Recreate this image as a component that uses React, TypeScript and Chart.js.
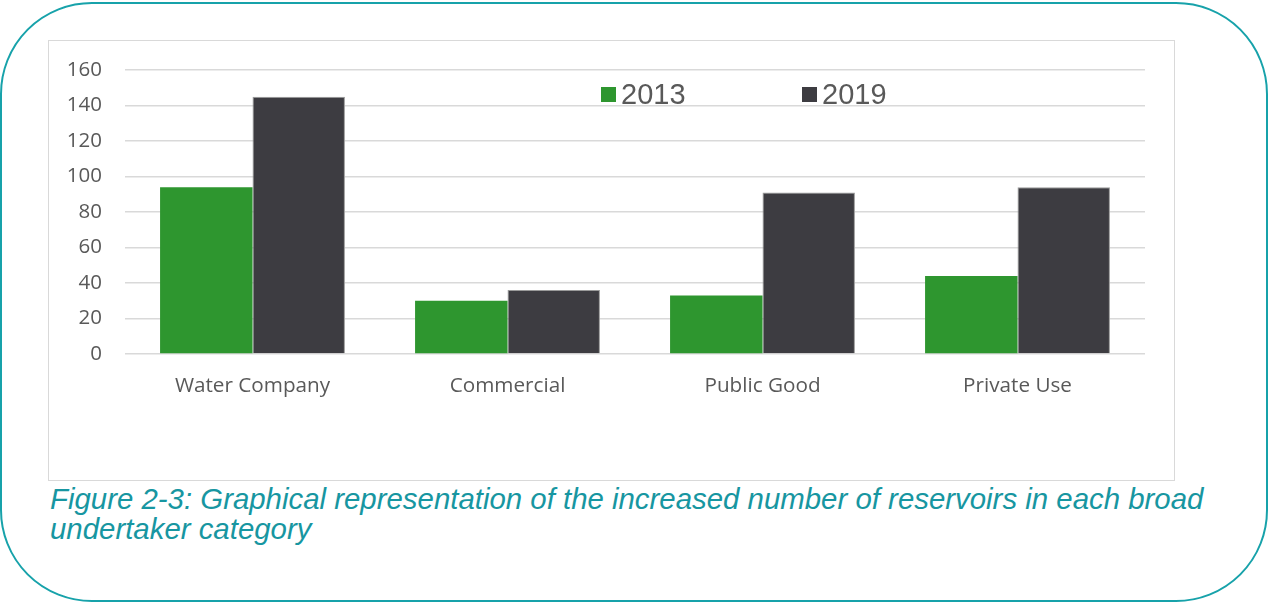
import React, { useEffect, useRef } from "react";
import { Chart, registerables } from "chart.js";

Chart.register(...registerables);

const categories = ["Water Company", "Commercial", "Public Good", "Private Use"];
const series2013 = [94, 30, 33, 44];
const series2019 = [145, 36, 91, 94];
const seriesLabels = ["2013", "2019"];
const yTicks = [0, 20, 40, 60, 80, 100, 120, 140, 160];

const GREEN = "#2E962F";
const DARK = "#3D3C41";
const TEAL = "#1796A1";
const TEXT = "#595959";

const CANVAS_W = 1125;
const CANVAS_H = 439;

const legendPlugin = {
  id: "customLegend",
  afterDraw(chart: any) {
    const { ctx, chartArea } = chart;
    const boxX = [476, 677];
    ctx.save();
    ctx.font = "29px 'Liberation Sans', Arial, sans-serif";
    ctx.textBaseline = "alphabetic";
    ctx.textAlign = "left";
    chart.data.datasets.forEach((ds: any, i: number) => {
      const bx = chartArea.left + boxX[i];
      const by = chartArea.top + 17;
      ctx.fillStyle = ds.backgroundColor;
      ctx.fillRect(bx, by, 15, 15);
      ctx.fillStyle = TEXT;
      ctx.fillText(ds.label, bx + 20, chartArea.top + 34);
    });
    ctx.restore();
  },
};

function ChartBox() {
  const ref = useRef<HTMLCanvasElement | null>(null);
  useEffect(() => {
    if (!ref.current) return;
    const chart = new Chart(ref.current, {
      type: "bar",
      data: {
        labels: categories,
        datasets: [
          {
            label: seriesLabels[0],
            data: series2013,
            backgroundColor: GREEN,
            categoryPercentage: 0.725,
            barPercentage: 1,
          },
          {
            label: seriesLabels[1],
            data: series2019,
            backgroundColor: DARK,
            borderColor: "#9a9a9a",
            borderWidth: 1,
            categoryPercentage: 0.725,
            barPercentage: 1,
          },
        ],
      },
      options: {
        responsive: false,
        animation: false,
        layout: { padding: { top: 29, right: 29, left: 0, bottom: 0 } },
        plugins: {
          legend: { display: false },
          tooltip: { enabled: false },
        },
        scales: {
          x: {
            grid: { display: false, drawTicks: false },
            border: { display: false },
            ticks: {
              color: TEXT,
              padding: 20,
              font: { family: "'Open Sans', sans-serif", size: 20.7 },
            },
            afterFit: (s: any) => {
              s.height = 126;
              s.paddingLeft = 0;
              s.paddingRight = 0;
            },
          },
          y: {
            min: 0,
            max: 160,
            afterBuildTicks: (s: any) => {
              s.ticks = yTicks.map((v) => ({ value: v }));
            },
            grid: { color: "#d9d9d9", lineWidth: 1.5, drawTicks: false },
            border: { display: false },
            ticks: {
              color: TEXT,
              padding: 23,
              font: { family: "'Open Sans', sans-serif", size: 20.5 },
            },
            afterFit: (s: any) => {
              s.width = 76;
              s.paddingTop = 0;
              s.paddingBottom = 0;
            },
          },
        },
      },
      plugins: [legendPlugin],
    });
    return () => chart.destroy();
  }, []);
  return <canvas ref={ref} width={CANVAS_W} height={CANVAS_H} style={{ display: "block" }} />;
}

export default function App() {
  return (
    <div
      style={{
        position: "absolute",
        left: 0,
        top: 0,
        width: 1269,
        height: 603,
        background: "#fff",
        overflow: "hidden",
      }}
    >
      <div
        style={{
          position: "absolute",
          left: 0,
          top: 2,
          width: 1268,
          height: 600,
          boxSizing: "border-box",
          border: "2px solid #17A2AA",
          borderRadius: 92,
        }}
      />
      <div
        style={{
          position: "absolute",
          left: 48,
          top: 40,
          width: CANVAS_W,
          height: CANVAS_H,
          border: "1px solid #d9d9d9",
        }}
      >
        <ChartBox />
      </div>
      <div
        style={{
          position: "absolute",
          left: 50,
          top: 484,
          fontFamily: "'Liberation Sans', Arial, sans-serif",
          fontStyle: "italic",
          fontSize: 29.4,
          lineHeight: "30px",
          color: TEAL,
          whiteSpace: "nowrap",
        }}
      >
        Figure 2-3: Graphical representation of the increased number of reservoirs in each broad
        <br />
        undertaker category
      </div>
    </div>
  );
}
